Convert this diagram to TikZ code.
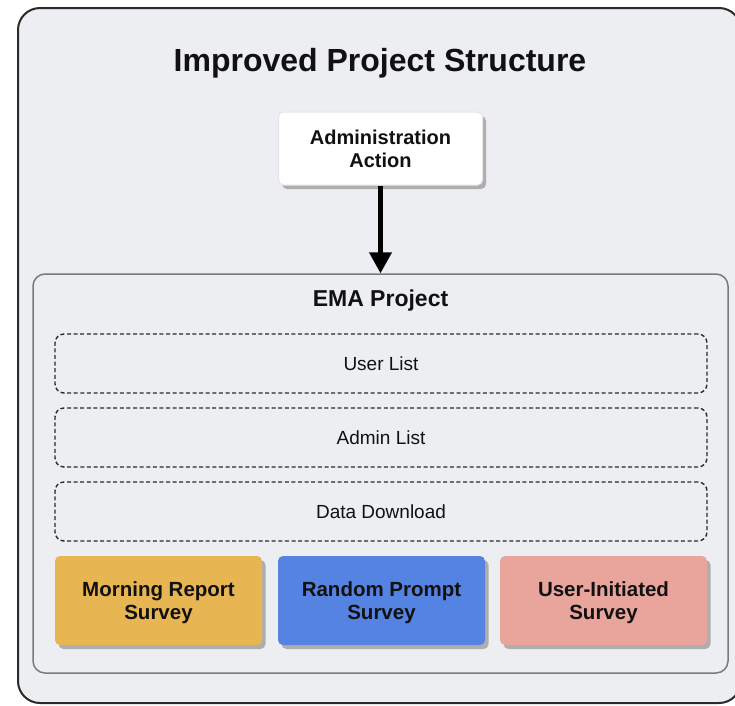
\documentclass[tikz,border=0pt]{standalone}
\usepackage{fontspec}
\setmainfont{Liberation Sans}
\usetikzlibrary{arrows.meta,shadows}
\definecolor{bgc}{HTML}{ECEEF1}
\definecolor{framec}{HTML}{2A2A2A}
\definecolor{innerc}{HTML}{7A7A7A}
\definecolor{morningc}{HTML}{E7B552}
\definecolor{randomc}{HTML}{5583E1}
\definecolor{userc}{HTML}{E9A59C}
\definecolor{txtc}{HTML}{111111}
\tikzset{
  titletext/.style={font=\bfseries\fontsize{32}{38}\selectfont, text=txtc, inner sep=0pt},
  ematext/.style={font=\bfseries\fontsize{23}{27}\selectfont, text=txtc, inner sep=0pt},
  actionbox/.style={draw=white!80!gray, line width=1pt, fill=white, rounded corners=5pt,
    minimum width=204pt, minimum height=73pt, align=center, text=txtc,
    font=\bfseries\fontsize{20}{23}\selectfont, text depth=0pt,
    drop shadow={shadow xshift=3.5pt, shadow yshift=-4pt, fill=gray!75, opacity=0.8}},
  dashbox/.style={draw=framec, line width=1.4pt, dash pattern=on 4pt off 2.6pt, rounded corners=9pt,
    minimum width=652pt, minimum height=59pt, text=txtc, font=\fontsize{19}{22}\selectfont},
  surveybox/.style={rounded corners=5pt, minimum width=207pt, minimum height=89pt,
    align=center, text=txtc, font=\bfseries\fontsize{20.5}{23}\selectfont, text depth=0pt,
    drop shadow={shadow xshift=3.5pt, shadow yshift=-4pt, fill=gray!75, opacity=0.8}},
  flowarrow/.style={-{Triangle[length=21pt,width=22pt]}, line width=4.2pt, draw=black}
}
\begin{document}
\begin{tikzpicture}[x=1pt,y=-1pt]
\useasboundingbox (0,0) rectangle (735,705);
\fill[white] (0,0) rectangle (735,705);
% outer frame
\draw[draw=framec, fill=bgc, line width=2pt, rounded corners=22pt] (18,8) rectangle (741,703);
\node[titletext, anchor=base] (title) at (380,71.7) {Improved Project Structure};
% inner EMA box
\node[draw=innerc, line width=1.5pt, rounded corners=12pt, minimum width=695pt, minimum height=399pt, inner sep=0pt] (ema) at (380.5,473.5) {};
\node[ematext, anchor=base] (ematitle) at (380.5,306.7) {EMA Project};
% admin action
\node[actionbox] (admin) at (380.5,148.5) {Administration\\Action};
\draw[flowarrow] (admin.south) -- (ema.north);
% dashed lists
\node[dashbox] (userlist) at (381,363.5) {User List};
\node[dashbox] (adminlist) at (381,437.5) {Admin List};
\node[dashbox] (datadl) at (381,511.5) {Data Download};
% surveys
\node[surveybox, fill=morningc] (morning) at (158.5,600.5) {Morning Report\\Survey};
\node[surveybox, fill=randomc] (random) at (381.5,600.5) {Random Prompt\\Survey};
\node[surveybox, fill=userc] (userinit) at (603.5,600.5) {User-Initiated\\Survey};
\end{tikzpicture}
\end{document}
